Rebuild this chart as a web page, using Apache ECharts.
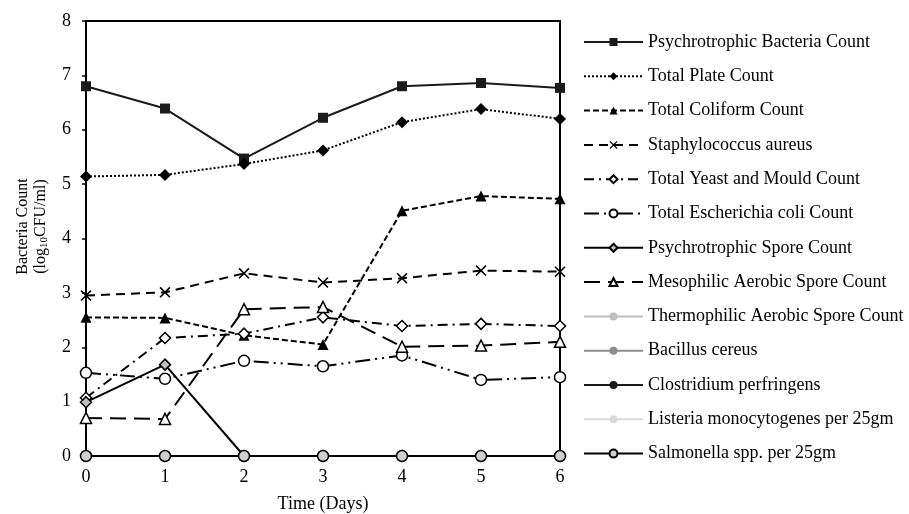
<!DOCTYPE html>
<html>
<head>
<meta charset="utf-8">
<script src="https://cdn.jsdelivr.net/npm/echarts@6/dist/echarts.min.js"></script>
<style>
  html, body { margin: 0; padding: 0; background: #fff; }
  #chart { width: 909px; height: 514px; }
</style>
</head>
<body>
<div id="chart"></div>
<script>
var days = [0, 1, 2, 3, 4, 5, 6];
var xTicks = ['0', '1', '2', '3', '4', '5', '6'];

var psychroBact = [6.80, 6.39, 5.47, 6.22, 6.80, 6.86, 6.77];
var totalPlate  = [5.14, 5.17, 5.37, 5.62, 6.14, 6.38, 6.20];
var coliform    = [2.55, 2.54, 2.22, 2.05, 4.51, 4.78, 4.73];
var staph       = [2.95, 3.01, 3.36, 3.19, 3.27, 3.41, 3.39];
var yeastMould  = [1.07, 2.17, 2.25, 2.55, 2.39, 2.43, 2.39];
var eColi       = [1.53, 1.42, 1.75, 1.65, 1.85, 1.40, 1.45];
var psychroSpore = [0.99, 1.68, 0, 0, 0, 0, 0];
var mesoSpore   = [0.70, 0.68, 2.70, 2.74, 2.01, 2.03, 2.10];
var thermoSpore = [0, 0, 0, 0, 0, 0, 0];
var bacCereus   = [0, 0, 0, 0, 0, 0, 0];
var clostridium = [0, 0, 0, 0, 0, 0, 0];
var listeria    = [0, 0, 0, 0, 0, 0, 0];
var salmonella  = [0, 0, 0, 0, 0, 0, 0];

var crossPath = 'path://M0,1L1,0L5,4L9,0L10,1L6,5L10,9L9,10L5,6L1,10L0,9L4,5Z';
var serif = '"Liberation Serif", "Times New Roman", serif';

function pts(arr) {
  return arr.map(function (v, i) { return [days[i], v]; });
}

function mk(name, arr, lineColor, dash, symbol, size, fill, border) {
  return {
    name: name,
    type: 'line',
    data: pts(arr),
    symbol: symbol,
    symbolSize: size,
    showAllSymbol: true,
    lineStyle: { color: lineColor, width: 2, type: dash },
    itemStyle: { color: fill, borderColor: border, borderWidth: border ? 1.5 : 0, opacity: 1 },
    emphasis: { disabled: true },
    z: 3
  };
}

var chart = echarts.init(document.getElementById('chart'));

chart.setOption({
  animation: false,
  textStyle: { fontFamily: serif },
  grid: {
    left: 86, right: 349, top: 21, bottom: 58,
    containLabel: false, outerBoundsMode: 'none',
    show: true, borderColor: '#000', borderWidth: 2, backgroundColor: 'transparent'
  },
  legend: {
    orient: 'vertical',
    left: 578, top: 28,
    itemWidth: 59, itemHeight: 10, itemGap: 16.3,
    textStyle: { fontFamily: serif, fontSize: 18, color: '#000' },
    data: [
      'Psychrotrophic Bacteria Count', 'Total Plate Count', 'Total Coliform Count',
      'Staphylococcus aureus', 'Total Yeast and Mould Count', 'Total Escherichia coli Count',
      'Psychrotrophic Spore Count', 'Mesophilic Aerobic Spore Count', 'Thermophilic Aerobic Spore Count',
      'Bacillus cereus', 'Clostridium perfringens', 'Listeria monocytogenes per 25gm',
      'Salmonella spp. per 25gm'
    ]
  },
  xAxis: {
    type: 'value', min: 0, max: 6, interval: 1,
    name: 'Time (Days)', nameLocation: 'middle', nameGap: 39,
    nameTextStyle: { fontFamily: serif, fontSize: 18, color: '#000' },
    axisLine: { lineStyle: { color: '#000', width: 2 } },
    axisTick: { show: false },
    splitLine: { show: false },
    axisLabel: {
      fontFamily: serif, fontSize: 18, color: '#000', margin: 12,
      formatter: function (v) { return xTicks[v]; }
    }
  },
  yAxis: {
    type: 'value', min: 0, max: 8, interval: 1,
    name: '{a|Bacteria Count}\n{a|(log}{s|10}{a|CFU/ml)}',
    nameLocation: 'middle', nameGap: 36, nameRotate: 90,
    nameTextStyle: {
      padding: [0, 0, 0, 24],
      rich: {
        a: { fontFamily: serif, fontSize: 16, color: '#000', lineHeight: 18 },
        s: { fontFamily: serif, fontSize: 11, color: '#000', lineHeight: 18, padding: [7, 0, 0, 0] }
      }
    },
    axisLine: { show: true, lineStyle: { color: '#000', width: 2 } },
    axisTick: { show: true, length: 4, lineStyle: { color: '#000', width: 1.5 } },
    splitLine: { show: false },
    axisLabel: { fontFamily: serif, fontSize: 18, color: '#000', margin: 15 }
  },
  series: [
    mk('Psychrotrophic Bacteria Count', psychroBact, '#1a1a1a', 'solid', 'rect', 10, '#1a1a1a', null),
    mk('Total Plate Count', totalPlate, '#000', [2, 2], 'diamond', 12, '#000', null),
    mk('Total Coliform Count', coliform, '#000', [6, 3], 'triangle', 11, '#000', null),
    mk('Staphylococcus aureus', staph, '#000', [9, 6], crossPath, 11, '#000', null),
    mk('Total Yeast and Mould Count', yeastMould, '#000', [10, 5, 2, 5], 'diamond', 11, '#fff', '#000'),
    mk('Total Escherichia coli Count', eColi, '#000', [15, 5, 2, 5, 2, 5], 'circle', 11, '#fff', '#000'),
    mk('Psychrotrophic Spore Count', psychroSpore, '#000', 'solid', 'diamond', 11, '#bfbfbf', '#000'),
    mk('Mesophilic Aerobic Spore Count', mesoSpore, '#000', [16, 8], 'triangle', 11, '#fff', '#000'),
    mk('Thermophilic Aerobic Spore Count', thermoSpore, '#bfbfbf', 'solid', 'circle', 10, '#bfbfbf', null),
    mk('Bacillus cereus', bacCereus, '#8c8c8c', 'solid', 'circle', 10, '#8c8c8c', null),
    mk('Clostridium perfringens', clostridium, '#1a1a1a', 'solid', 'circle', 10, '#1a1a1a', null),
    mk('Listeria monocytogenes per 25gm', listeria, '#d9d9d9', 'solid', 'circle', 10, '#d9d9d9', null),
    mk('Salmonella spp. per 25gm', salmonella, '#000', 'solid', 'circle', 11, '#cfcfcf', '#000')
  ]
});
</script>
</body>
</html>
